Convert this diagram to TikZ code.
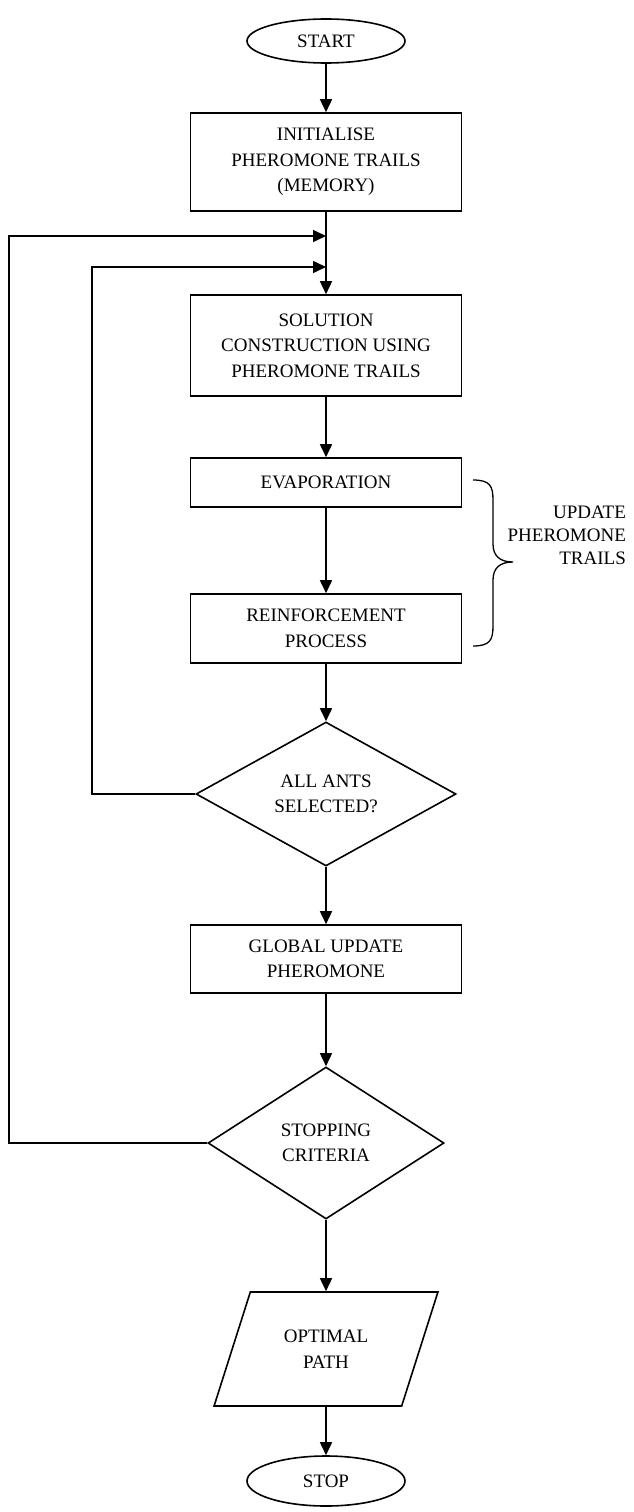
\documentclass[tikz,border=0pt]{standalone}
\usepackage{fontspec}
\setmainfont{Liberation Serif}
\usepackage{tikz}
\usetikzlibrary{shapes.geometric,arrows.meta,positioning}

\begin{document}
\begin{tikzpicture}[x=1pt,y=1pt,on grid,
    line width=1.6pt,
    font=\fontsize{19}{25.5}\selectfont,
    terminal/.style={draw,ellipse,inner sep=0pt,minimum width=158pt,minimum height=44pt},
    process/.style={draw,rectangle,align=center,minimum width=271pt},
    decision/.style={draw,diamond,align=center,inner sep=0pt},
    io/.style={draw,trapezium,trapezium left angle=64,trapezium right angle=116,
        trapezium stretches=true,align=center,minimum width=224pt,minimum height=114pt},
    arrow/.style={-{Triangle[length=13pt,width=12pt]}}]
     \useasboundingbox (0,0) rectangle (633,-1512);
     \node[terminal] (start) at (326,-41) {START};
     \node[process, minimum height=98pt] (init) [below=121pt of start] {INITIALISE\\PHEROMONE TRAILS\\(MEMORY)};
     \node[process, minimum height=101pt] (sol) [below=183.5pt of init] {SOLUTION\\CONSTRUCTION USING\\PHEROMONE TRAILS};
     \node[process, minimum height=49pt] (evap) [below=137pt of sol] {EVAPORATION};
     \node[process, minimum height=69pt] (reinf) [below=146pt of evap] {REINFORCEMENT\\PROCESS};
     \node[decision, minimum width=260pt, minimum height=144pt] (ants) [below=165.5pt of reinf] {ALL ANTS\\SELECTED?};
     \node[process, minimum height=68pt] (global) [below=165pt of ants] {GLOBAL UPDATE\\PHEROMONE};
     \node[decision, minimum width=236pt, minimum height=152pt] (crit) [below=184pt of global] {STOPPING\\CRITERIA};
     \node[io] (optimal) [below=206pt of crit] {OPTIMAL\\PATH};
     \node[terminal, minimum height=50pt] (stop) [below=132pt of optimal] {STOP};
     \node[align=right, anchor=east, font=\fontsize{19}{23}\selectfont] (update) at (630,-535) {UPDATE\\PHEROMONE\\TRAILS};

     \coordinate (join1) at (326,-236);
     \coordinate (join2) at (326,-267);
     \coordinate (outer) at (9,0);
     \coordinate (inner) at (92,0);

      \draw[arrow] (start) -- (init);
      \draw[arrow] (init) -- (sol);
      \draw[arrow] (sol) -- (evap);
      \draw[arrow] (evap) -- (reinf);
      \draw[arrow] (reinf) -- (ants);
      \draw[arrow] (ants) -- (global);
      \draw[arrow] (global) -- (crit);
      \draw[arrow] (crit) -- (optimal);
      \draw[arrow] (optimal) -- (stop);
      % loops back to solution construction
      \draw[arrow] (ants.west) -| (inner |- join2) -- (join2);
      \draw[arrow] (crit.west) -| (outer |- join1) -- (join1);
      % brace round the update steps
      \draw[line width=1.3pt] (473,-480) .. controls (490,-480) and (493,-486) .. (493,-500)
          -- (493,-544) .. controls (493,-556) and (500,-562) .. (513,-562)
          .. controls (500,-562) and (493,-568) .. (493,-580)
          -- (493,-626) .. controls (493,-640) and (490,-646) .. (473,-646);
    \end{tikzpicture}
\end{document}
